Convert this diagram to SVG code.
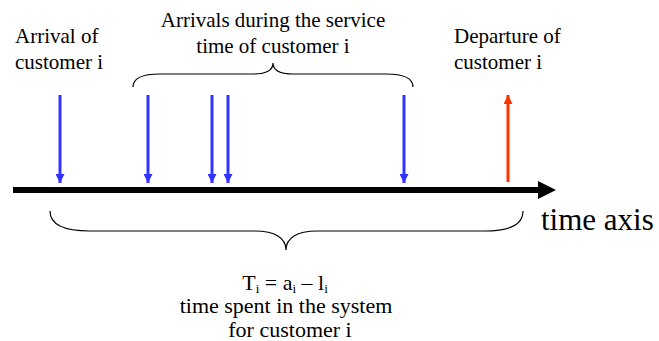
<svg xmlns="http://www.w3.org/2000/svg" width="659" height="341" viewBox="0 0 659 341">
<defs>
<style>
text{font-family:"Liberation Serif","Times New Roman",serif;fill:#000;}
.lbl{font-size:21px;}
.lbl2{font-size:22px;}
.big{font-size:31px;}
.brace{fill:none;stroke:#000;stroke-width:1.2;}
.blue{stroke:#3333FF;stroke-width:3;}
.red{stroke:#FF3300;stroke-width:3;}
</style>
<marker id="hb" viewBox="0 0 10 10" refX="10" refY="5" markerWidth="9" markerHeight="9" markerUnits="userSpaceOnUse" orient="auto"><path d="M0,0L10,5L0,10z" fill="#3333FF"/></marker>
<marker id="hr" viewBox="0 0 10 10" refX="10" refY="5" markerWidth="9" markerHeight="9" markerUnits="userSpaceOnUse" orient="auto"><path d="M0,0L10,5L0,10z" fill="#FF3300"/></marker>
</defs>
<rect width="659" height="341" fill="#fff"/>
<g id="connectors">
<line class="blue" x1="60" y1="95" x2="60" y2="183" marker-end="url(#hb)"/>
<line class="blue" x1="148" y1="95" x2="148" y2="183" marker-end="url(#hb)"/>
<line class="blue" x1="212" y1="95" x2="212" y2="183" marker-end="url(#hb)"/>
<line class="blue" x1="228" y1="95" x2="228" y2="183" marker-end="url(#hb)"/>
<line class="blue" x1="404" y1="95" x2="404" y2="183" marker-end="url(#hb)"/>
<line class="red" x1="508" y1="182" x2="508" y2="95" marker-end="url(#hr)"/>
</g>
<g id="axis">
<line x1="13" y1="190" x2="540" y2="190" stroke="#000" stroke-width="6"/>
<polygon points="538,181 556,190 538,199" fill="#000"/>
<text class="big" x="541" y="230">time axis</text>
</g>
<g id="arrival-label">
<text class="lbl" x="15" y="43">Arrival of</text>
<text class="lbl" x="15" y="69">customer i</text>
</g>
<g id="service-arrivals">
<text class="lbl" x="273" y="27" text-anchor="middle">Arrivals during the service</text>
<text class="lbl" x="273" y="53" text-anchor="middle">time of customer i</text>
<path class="brace" d="M133,87 C133,79 141,74 160,74 L253,74 C266,74 273,70 273,63 C273,70 280,74 293,74 L386,74 C405,74 413,79 413,87"/>
</g>
<g id="departure-label">
<text class="lbl" x="454" y="43">Departure of</text>
<text class="lbl" x="454" y="69">customer i</text>
</g>
<g id="time-in-system">
<path class="brace" d="M50,211 C50,224 62,231 90,231 L255,231 C275,231 286,238 286,250 C286,238 297,231 317,231 L485,231 C510,231 523,224 523,211"/>
<text class="lbl2" x="285" y="290" text-anchor="middle">T<tspan font-size="13" dy="3">i</tspan><tspan dy="-3"> = a</tspan><tspan font-size="13" dy="3">i</tspan><tspan dy="-3"> – l</tspan><tspan font-size="13" dy="3">i</tspan></text>
<text class="lbl2" x="286" y="313" text-anchor="middle">time spent in the system</text>
<text class="lbl2" x="290" y="337" text-anchor="middle">for customer i</text>
</g>
</svg>
